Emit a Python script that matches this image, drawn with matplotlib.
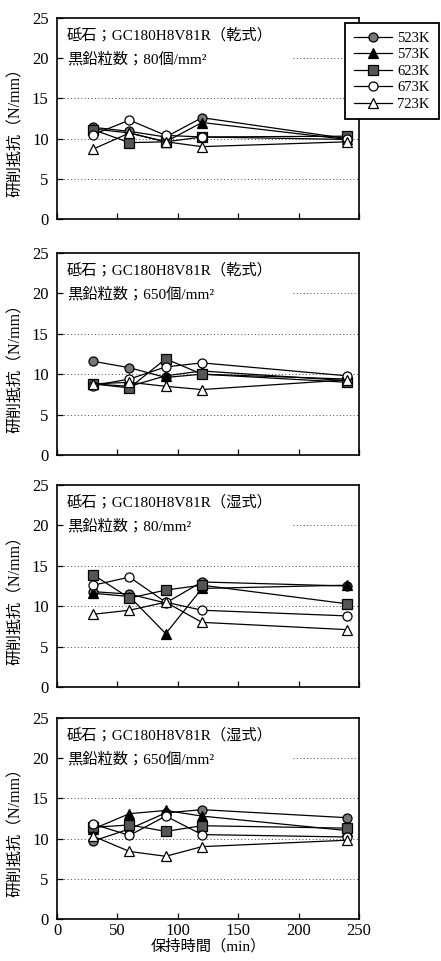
import numpy as np
import matplotlib
matplotlib.use('Agg')
import matplotlib.pyplot as plt

plt.rcParams['font.family'] = ['Liberation Serif', 'Noto Sans CJK JP']

hold_time = [30, 60, 90, 120, 240]
temps = ['523K', '573K', '623K', '673K', '723K']

# 研削抵抗 (N/mm), rows = 523K..723K
dry_80 = [[11.4, 10.9, 10.2, 12.6, 10.0],
          [11.2, 10.7, 9.6, 12.0, 9.9],
          [11.1, 9.5, 9.6, 10.2, 10.3],
          [10.5, 12.3, 10.4, 10.2, 9.9],
          [8.7, 10.7, 9.6, 9.0, 9.6]]
dry_650 = [[11.6, 10.8, 9.6, 10.0, 9.4],
           [8.8, 8.5, 9.8, 10.4, 9.2],
           [8.8, 8.3, 11.9, 10.0, 9.0],
           [8.6, 9.4, 10.9, 11.4, 9.8],
           [8.8, 9.0, 8.5, 8.1, 9.3]]
wet_80 = [[11.8, 11.5, 10.4, 13.0, 12.5],
          [11.6, 11.2, 6.6, 12.2, 12.6],
          [13.9, 11.0, 12.0, 12.6, 10.3],
          [12.6, 13.6, 10.5, 9.5, 8.8],
          [9.0, 9.5, 10.5, 8.0, 7.1]]
wet_650 = [[9.7, 11.2, 13.2, 13.6, 12.6],
           [11.2, 13.1, 13.5, 12.8, 11.0],
           [11.4, 11.7, 10.9, 11.6, 11.3],
           [11.8, 10.4, 12.8, 10.5, 10.2],
           [10.3, 8.4, 7.8, 9.0, 9.8]]

titles = ['砥石；GC180H8V81R（乾式）', '砥石；GC180H8V81R（乾式）',
          '砥石；GC180H8V81R（湿式）', '砥石；GC180H8V81R（湿式）']
counts = ['黒鉛粒数；80個/mm²', '黒鉛粒数；650個/mm²',
          '黒鉛粒数；80/mm²', '黒鉛粒数；650個/mm²']

markers = ['o', '^', 's', 'o', '^']
faces = ['#777777', 'black', '#555555', 'white', 'white']

fig = plt.figure(figsize=(4.41, 9.61), dpi=100)
W, H = 441., 961.
panels = [(18, 219), (253, 455), (485, 687), (718, 919)]

lines = []
for i, data in enumerate([dry_80, dry_650, wet_80, wet_650]):
    top, bot = panels[i]
    ax = fig.add_axes([57 / W, 1 - bot / H, 302 / W, (bot - top) / H])
    for y in [5, 10, 15]:
        ax.axhline(y, color='#444444', lw=0.7, ls=(0, (1, 2.5)), zorder=1)
    ax.hlines(20, 195, 250, color='#444444', lw=0.7, ls=(0, (1, 2.5)), zorder=1)
    for j, vals in enumerate(data):
        l, = ax.plot(hold_time, vals, color='black', lw=0.9, marker=markers[j],
                     markersize=6.5, markerfacecolor=faces[j],
                     markeredgecolor='black', markeredgewidth=0.9,
                     label=temps[j], zorder=3)
        if i == 0:
            lines.append(l)
    ax.set_xlim(0, 250)
    ax.set_ylim(0, 25)
    ax.set_xticks([0, 50, 100, 150, 200, 250])
    ax.set_yticks([0, 5, 10, 15, 20, 25])
    ax.tick_params(direction='in', length=4, width=0.9, top=False, right=False,
                   labelsize=12)
    ax.tick_params(axis='y', pad=6)
    ax.tick_params(axis='x', pad=3)
    for s in ax.spines.values():
        s.set_linewidth(1.2)
    if i < 3:
        ax.set_xticklabels([])
    else:
        ax.set_xlabel('保持時間（min）', fontsize=11, labelpad=0)
    ax.set_ylabel('研削抵抗（N/mm）', fontsize=11.5)
    ax.yaxis.set_label_coords(-0.11, 0.45)
    ax.text(0.033, 0.915, titles[i], transform=ax.transAxes, fontsize=11,
            va='center', ha='left')
    ax.text(0.033, 0.795, counts[i], transform=ax.transAxes, fontsize=11,
            va='center', ha='left')

leg = fig.legend(handles=lines, loc='upper left',
                 bbox_to_anchor=(345 / W, 1 - 23 / H), fontsize=10.5,
                 frameon=True, fancybox=False, framealpha=1, edgecolor='black',
                 handlelength=2.6, handletextpad=0.4, labelspacing=0.22,
                 borderpad=0.6, borderaxespad=0)
leg.get_frame().set_linewidth(1.3)

fig.savefig('out.png', dpi=100)
